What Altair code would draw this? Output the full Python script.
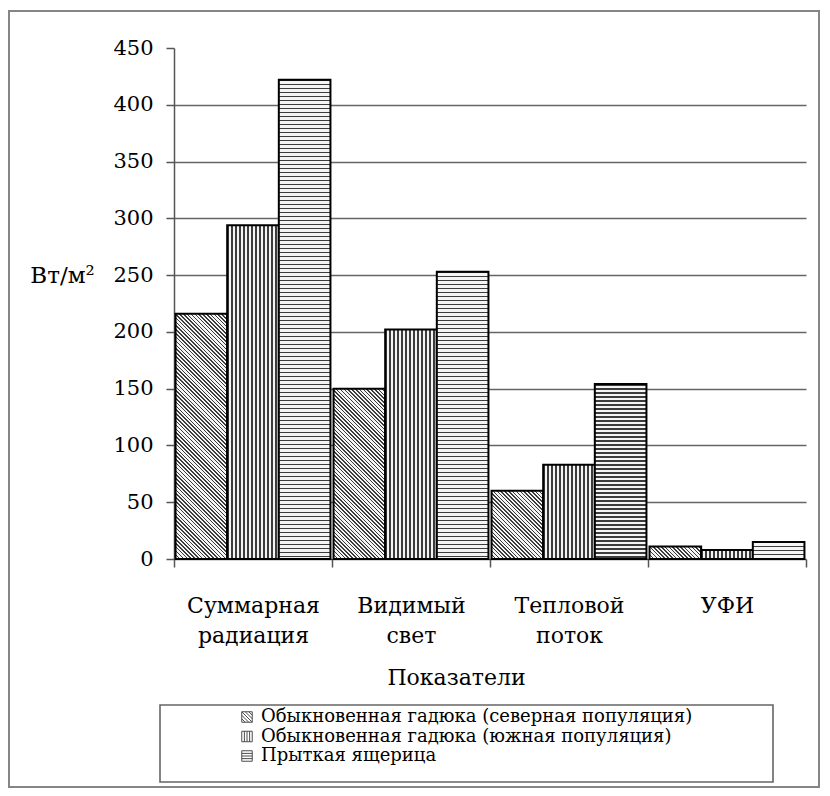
import math
import altair as alt
import pandas as pd

# ---------------- data ----------------
categories = ["Суммарная радиация", "Видимый свет", "Тепловой поток", "УФИ"]
series = [
    "Обыкновенная гадюка (северная популяция)",
    "Обыкновенная гадюка (южная популяция)",
    "Прыткая ящерица",
]
north_viper = [216, 150, 60, 11]
south_viper = [294, 202, 83, 8]
sand_lizard = [422, 253, 154, 15]
y_ticks = [0, 50, 100, 150, 200, 250, 300, 350, 400, 450]

values = [north_viper, south_viper, sand_lizard]
rows = []
for si, s in enumerate(series):
    for ci, c in enumerate(categories):
        rows.append({"cat": c, "series": s, "ci": ci, "si": si, "v": values[si][ci]})
df = pd.DataFrame(rows)

# ---------------- layout ----------------
W, H = 632, 511
YMAX = 450
FONT = "DejaVu Serif"
band = W / len(categories)
off_pad = 0.03
bar_w = band / (3 + 2 * off_pad)

LINE = "#3c3c3c"
BG = "#f4f4f4"


def stripe_stops(span_px, period_px, line_px):
    stops = []
    pf = period_px / span_px
    lf = line_px / span_px
    k = 0
    while k * pf < 1:
        a = round(k * pf, 5)
        b = round(min(k * pf + lf, 1), 5)
        nxt = round(min((k + 1) * pf, 1), 5)
        stops += [
            {"offset": a, "color": LINE},
            {"offset": b, "color": LINE},
            {"offset": b, "color": BG},
            {"offset": nxt, "color": BG},
        ]
        k += 1
    return stops


def grad_vertical():
    return {"gradient": "linear", "x1": 0, "y1": 0, "x2": 1, "y2": 0,
            "stops": stripe_stops(bar_w, 4.0, 1.4)}


def grad_horizontal(h):
    return {"gradient": "linear", "x1": 0, "y1": 0, "x2": 0, "y2": 1,
            "stops": stripe_stops(h, 4.0, 1.4)}


def grad_diagonal(w, h):
    c = (w + h) / (w * w + h * h)
    span = (w + h) / math.sqrt(2)
    return {"gradient": "linear", "x1": 0, "y1": 1, "x2": c * w, "y2": 1 - c * h,
            "stops": stripe_stops(span, 2.7, 1.1)}


x_enc = alt.X(
    "cat:N",
    sort=categories,
    scale=alt.Scale(domain=categories, paddingInner=0, paddingOuter=0),
    axis=alt.Axis(
        title="Показатели",
        labelExpr="split(datum.label, ' ')",
        labelAngle=0,
        tickBand="extent",
        tickSize=8,
        tickWidth=1.5,
        tickColor="#555555",
        domainColor="#555555",
        domainWidth=1.5,
        labelPadding=28,
        labelLineHeight=30,
        labelFont=FONT,
        labelFontSize=22,
        labelColor="black",
        labelLimit=400,
        titleFont=FONT,
        titleFontSize=22,
        titleFontWeight="normal",
        titleColor="black",
        titleX=282,
        titleY=125,
        titleBaseline="alphabetic",
        titleAlign="center",
    ),
)
xoff_enc = alt.XOffset(
    "series:N", sort=series,
    scale=alt.Scale(domain=series, paddingInner=0, paddingOuter=off_pad),
)
y_scale = alt.Scale(domain=[0, YMAX], nice=False, zero=True)
y_enc = alt.Y(
    "v:Q",
    scale=y_scale,
    axis=alt.Axis(
        values=y_ticks,
        grid=True,
        gridColor="#666666",
        gridWidth=1.5,
        gridOpacity={"condition": {"test": "datum.value == 0 || datum.value == 450", "value": 0}, "value": 1},
        title="Вт/м²",
        titleAngle=0,
        titleX=-112,
        titleY=227,
        titleAlign="center",
        titleBaseline="middle",
        titleFont=FONT,
        titleFontSize=23,
        titleFontWeight="normal",
        titleColor="black",
        labelFont=FONT,
        labelFontSize=21,
        labelColor="black",
        labelPadding=13,
        tickSize=8,
        tickWidth=1.5,
        tickColor="#555555",
        domainColor="#555555",
        domainWidth=1.5,
    ),
)

base = alt.Chart(df)

layers = []
for si in range(3):
    for ci in range(4):
        v = values[si][ci]
        hpx = v / YMAX * H
        if si == 0:
            fill = grad_diagonal(bar_w, hpx)
        elif si == 1:
            fill = grad_vertical()
        else:
            fill = grad_horizontal(hpx)
        layers.append(
            base.transform_filter(f"datum.si == {si} && datum.ci == {ci}")
            .mark_bar(fill=fill, stroke="black", strokeWidth=2)
            .encode(x=x_enc, xOffset=xoff_enc, y=y_enc)
        )

# legend (native legend, pattern-like symbols)
sym_paths = [
    "M-1,-1H1V1H-1Z M-1,-1L1,1 M-0.333,-1L1,0.333 M0.333,-1L1,-0.333 M-1,-0.333L0.333,1 M-1,0.333L-0.333,1",
    "M-1,-1H1V1H-1Z M-0.5,-1V1 M0,-1V1 M0.5,-1V1",
    "M-1,-1H1V1H-1Z M-1,-0.5H1 M-1,0H1 M-1,0.5H1",
]
legend_layer = base.transform_filter("false").mark_point(
    color="black", filled=False
).encode(
    shape=alt.Shape(
        "series:N",
        scale=alt.Scale(domain=series, range=sym_paths),
        legend=alt.Legend(
            title=None,
            orient="none",
            legendX=64,
            legendY=660,
            padding=0,
            symbolSize=110,
            symbolStrokeWidth=1,
            symbolStrokeColor="black",
            labelFont=FONT,
            labelFontSize=18,
            labelColor="black",
            labelOffset=5,
            labelLimit=700,
            rowPadding=1.5,
        ),
    )
)

one = pd.DataFrame({"a": [0]})
legend_box = alt.Chart(one).mark_rect(
    fill="transparent", stroke="#666666", strokeWidth=1.6
).encode(x=alt.value(-14), x2=alt.value(599), y=alt.value(657), y2=alt.value(734))

frame = alt.Chart(one).mark_rect(
    fill="transparent", stroke="#858585", strokeWidth=2
).encode(x=alt.value(-165), x2=alt.value(645), y=alt.value(-37), y2=alt.value(739))

layers += [legend_layer, legend_box, frame]

chart = alt.layer(*layers).properties(
    width=W,
    height=H,
    autosize=alt.AutoSizeParams(type="none"),
    padding={"left": 166, "top": 40, "right": 14, "bottom": 229},
    background="white",
).configure_view(stroke=None)

chart.save("out.html", embed_options={"renderer": "svg", "actions": False})
